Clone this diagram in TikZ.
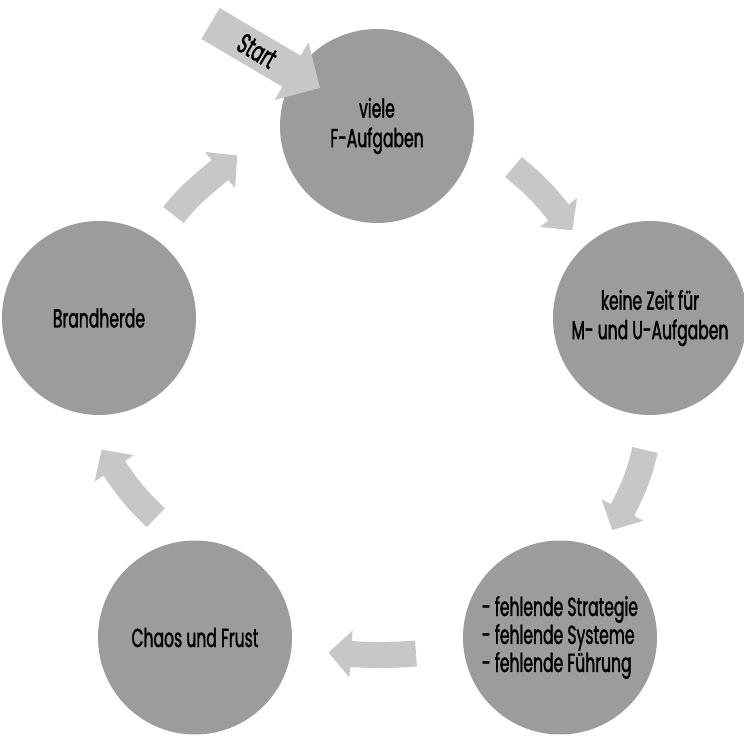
\documentclass[tikz,border=0pt]{standalone}
\usepackage{fontspec}
\setmainfont[FakeStretch=0.6,FakeBold=1.4]{Poppins}
\usetikzlibrary{calc}
\definecolor{circgray}{HTML}{9C9C9C}
\definecolor{arrgray}{HTML}{C6C8C7}
\newcommand\cyclearrow[5]{%
  \draw[shaft] (#1) to[out=#2,in=#4] (#3);
  \fill[arrowhead,shift={(#3)},rotate=#5] (-2,13) -- (0,13) -- (0,23.5) -- (22.5,0) -- (0,-23.5) -- (0,-13) -- (-2,-13) -- cycle;
}
\begin{document}
\begin{tikzpicture}[x=1pt,y=1pt,
  stage/.style={circle, fill=circgray, minimum size=194pt, inner sep=0pt, align=center, text=black, font=\fontsize{26}{29.5}\selectfont},
  shaft/.style={draw=arrgray, line width=26pt},
  arrowhead/.style={fill=arrgray},
  lbl/.style={text=black, font=\fontsize{28}{30}\selectfont}]
\useasboundingbox (0,0) rectangle (744,736);
% stages
\node[stage] (top) at (377,610) {viele\\F-Aufgaben};
\node[stage] (right) at (650,418) {keine Zeit für\\M- und U-Aufgaben};
\node[stage, align=left, font=\fontsize{26}{28}\selectfont] (bright) at (560,98.5) {- fehlende Strategie\\- fehlende Systeme\\- fehlende Führung};
\node[stage] (bleft) at (195,98.5) {Chaos und Frust};
\node[stage] (left) at (99,418) {Brandherde};
% cycle arrows
\coordinate (a1t) at (513.5,569);  \coordinate (a1h) at (558.5,523.5);
\coordinate (a2t) at (645,286);    \coordinate (a2h) at (622.5,226);
\coordinate (a3t) at (416,82.5);   \coordinate (a3h) at (351,82);
\coordinate (a4t) at (155.8,218.2);\coordinate (a4h) at (114.2,267.7);
\coordinate (a5t) at (173.5,521);  \coordinate (a5h) at (220,566);
\cyclearrow{a1t}{-40}{a1h}{128}{-52}
\cyclearrow{a2t}{-103}{a2h}{63}{-117}
\cyclearrow{a3t}{184}{a3h}{-4}{176}
\cyclearrow{a4t}{136}{a4h}{-56}{124}
\cyclearrow{a5t}{52}{a5h}{220}{40}
% start arrow
\coordinate (st) at (210.5,712.5);
\fill[arrowhead, shift={(st)}, rotate=-30.5] (0,18) -- (94,18) -- (94,33.5) -- (127,0) -- (94,-33.5) -- (94,-18) -- (0,-18) -- cycle;
\node[lbl, rotate=-30.5, inner sep=0pt] (starttext) at ($(st)+(-30.5:54)$) {Start};
\end{tikzpicture}
\end{document}
